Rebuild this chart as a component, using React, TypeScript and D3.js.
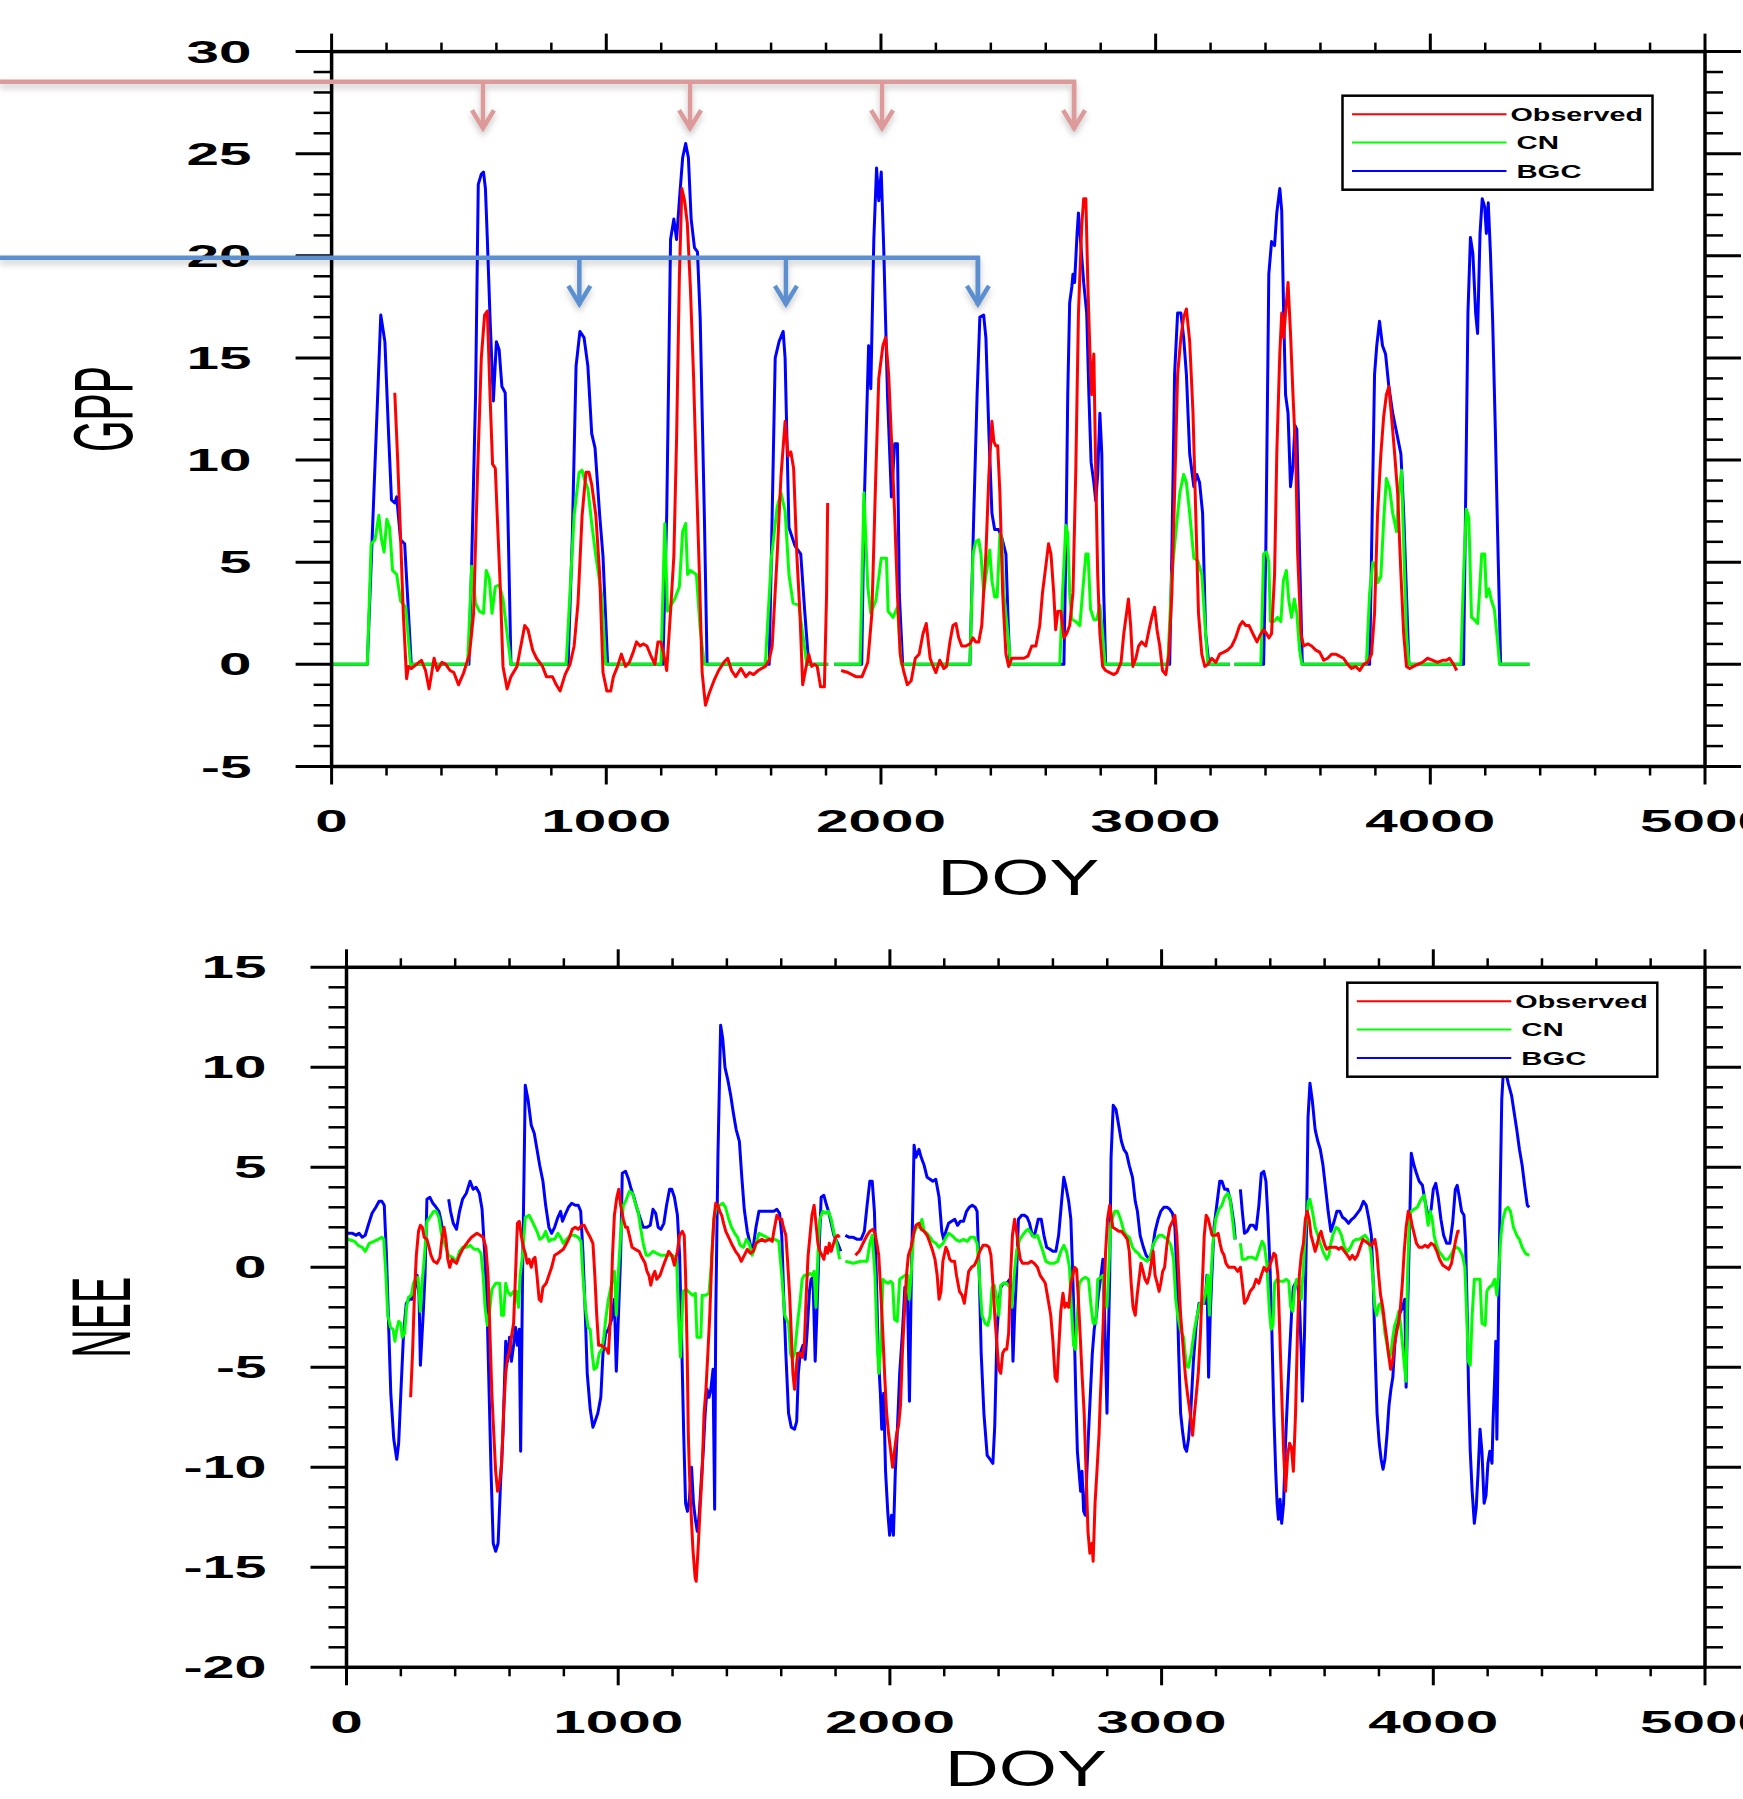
import React from "react";
import * as d3 from "d3";

type Pt = [number, number | null];

// ---- GPP (top panel) ----
const gppBGC: Pt[] = [
  [1,0],[130,0],[179,17.1],[194,15.8],[208,11.1],[218,8.05],[230,7.9],[237,8.2],[251,6.1],[266,5.9],[280,2.5],[290,0],
  [500,0],[510,5.0],[524,13.1],[534,23.5],[545,24.0],[553,24.1],[560,23.3],[567,20.8],[577,16.9],[589,12.9],[600,15.8],[610,15.4],[620,13.6],[632,13.3],[639,9.2],[653,0],
  [861,0],[876,6.1],[890,14.6],[904,16.3],[919,16.0],[933,14.6],[947,11.3],[959,10.6],[976,7.3],[988,5.3],[1005,0],
  [1206,0],[1220,7.3],[1234,20.8],[1246,21.8],[1256,20.8],[1266,22.7],[1278,24.8],[1289,25.5],[1299,24.8],[1309,21.8],[1321,20.4],[1332,20.2],[1342,16.9],[1357,7.3],[1367,0],
  [1593,0],[1601,5.3],[1615,15.0],[1629,15.8],[1644,16.3],[1651,15.0],[1665,6.7],[1687,5.8],[1708,5.4],[1723,2.5],[1737,0],[1808,0],[1815,null],[1830,0],
  [1930,0],[1938,7.3],[1955,15.6],[1963,13.5],[1974,20.8],[1984,24.3],[1992,22.7],[2001,24.1],[2010,20.4],[2024,13.1],[2038,8.2],[2050,10.8],[2060,10.8],[2067,3.4],[2079,0],
  [2324,0],[2338,7.4],[2350,13.2],[2360,17.0],[2374,17.1],[2382,16.0],[2393,11.3],[2404,7.4],[2414,6.6],[2428,6.6],[2440,6.2],[2455,5.4],[2462,2.5],[2469,0],
  [2666,0],[2673,5.4],[2680,13.2],[2687,17.7],[2695,18.5],[2699,19.1],[2705,18.7],[2714,21.1],[2719,22.1],[2728,20.5],[2738,18.7],[2749,17.2],[2757,13.2],[2765,9.9],[2775,8.9],[2782,8.0],[2789,9.3],[2797,12.3],[2804,10.3],[2811,3.5],[2818,0],
  [3051,0],[3059,5.4],[3069,14.2],[3080,17.2],[3092,17.2],[3102,16.0],[3112,14.2],[3124,10.3],[3139,8.7],[3150,9.3],[3160,8.9],[3171,7.4],[3182,1.5],[3194,0],[3270,0],[3278,null],[3287,0],
  [3393,0],[3401,5.4],[3412,19.1],[3422,20.7],[3433,20.5],[3441,22.1],[3452,23.3],[3459,22.2],[3466,17.2],[3473,13.2],[3482,12.3],[3491,8.7],[3500,9.7],[3507,11.7],[3514,11.5],[3524,5.4],[3534,0],
  [3779,0],[3786,5.4],[3797,14.2],[3805,15.6],[3815,16.8],[3826,15.6],[3837,15.2],[3849,13.6],[3863,12.3],[3878,11.3],[3893,10.3],[3903,7.4],[3913,3.5],[3922,0],
  [4121,0],[4128,7.4],[4137,17.2],[4146,20.9],[4155,20.1],[4165,17.2],[4172,16.2],[4181,21.1],[4189,22.8],[4198,22.4],[4204,21.1],[4211,22.6],[4219,20.1],[4227,16.8],[4237,11.3],[4245,6.4],[4256,0],[4361,0],
];

const gppCN: Pt[] = [
  [1,0],[130,0],[144,5.9],[158,6.1],[172,7.3],[182,6.1],[191,5.5],[201,7.1],[211,6.7],[222,4.6],[237,4.4],[251,3.1],[270,2.8],[287,0],
  [495,0],[510,4.8],[524,3.0],[538,2.6],[553,2.5],[563,4.6],[574,4.2],[584,2.5],[596,3.8],[610,3.9],[624,3.2],[639,1.5],[653,0],
  [854,0],[869,3.8],[883,7.3],[901,9.4],[912,9.5],[922,9.0],[933,8.6],[947,6.9],[962,5.3],[983,3.4],[998,0],
  [1199,0],[1213,6.9],[1223,2.6],[1249,3.2],[1266,3.8],[1278,6.5],[1289,6.9],[1296,4.4],[1306,4.6],[1328,4.4],[1342,1.7],[1357,0],
  [1579,0],[1601,5.2],[1622,7.7],[1636,8.4],[1651,7.5],[1665,4.4],[1680,3.0],[1701,2.9],[1715,1.5],[1730,0],[1808,0],[1815,null],[1830,0],
  [1924,0],[1938,8.4],[1952,3.8],[1963,2.5],[1981,3.1],[2001,5.2],[2020,5.2],[2026,2.6],[2044,2.3],[2060,2.8],[2074,0],
  [2324,0],[2335,5.4],[2345,6.0],[2356,6.1],[2364,5.4],[2374,3.5],[2389,5.0],[2396,5.6],[2404,4.1],[2414,3.3],[2423,3.3],[2433,6.4],[2440,6.2],[2447,3.5],[2462,1.5],[2472,0],
  [2651,0],[2661,3.5],[2673,6.8],[2680,6.4],[2687,3.5],[2695,2.2],[2709,2.1],[2724,1.9],[2734,3.5],[2746,5.4],[2754,5.4],[2763,2.7],[2775,2.2],[2786,2.2],[2797,2.9],[2807,1.5],[2816,0],
  [3044,0],[3059,4.4],[3073,6.4],[3088,8.4],[3102,9.3],[3112,8.9],[3124,7.4],[3139,5.2],[3153,5.1],[3168,4.4],[3182,1.5],[3190,0],[3270,0],[3278,null],[3287,0],
  [3383,0],[3393,5.4],[3404,5.5],[3412,5.0],[3418,2.1],[3430,2.1],[3444,2.3],[3456,2.1],[3465,4.1],[3476,4.6],[3485,3.1],[3495,2.3],[3505,3.2],[3514,2.5],[3524,0.7],[3532,0],
  [3767,0],[3779,3.5],[3791,5.0],[3801,4.8],[3808,4.0],[3820,4.3],[3830,7.0],[3840,9.1],[3852,8.6],[3863,7.4],[3877,6.5],[3884,8.2],[3895,9.5],[3904,5.4],[3913,1.5],[3922,0],
  [4111,0],[4121,4.4],[4131,7.6],[4140,7.2],[4150,2.3],[4160,2.2],[4172,2.0],[4179,3.5],[4187,5.4],[4198,5.4],[4204,3.3],[4213,3.7],[4223,3.1],[4233,2.7],[4245,1.1],[4252,0],[4361,0],
];

const gppObserved: Pt[] = [
  [230,13.3],[240,10.2],[251,6.3],[261,2.5],[273,-0.7],[280,-0.1],[290,-0.2],[309,0.0],[327,0.2],[342,-0.3],[355,-1.2],[373,0.3],[385,-0.3],[402,0.1],[416,0.0],[431,-0.3],[445,-0.4],[462,-1.0],[481,-0.4],[502,0.5],
  [517,2.5],[531,9.2],[545,15.0],[557,17.1],[567,17.3],[577,13.1],[586,9.8],[596,9.6],[603,7.3],[614,3.8],[624,-0.1],[639,-1.2],[653,-0.6],[675,-0.1],[689,0.9],[703,1.9],[715,1.7],[732,0.7],[746,0.3],[768,-0.1],
  [782,-0.6],[804,-0.6],[818,-1.0],[832,-1.3],[850,-0.5],[868,0.0],[883,0.9],[897,3.0],[912,7.3],[926,9.4],[937,9.4],[947,8.8],[962,7.3],[976,4.4],[988,-0.4],[1002,-1.3],[1016,-1.3],[1026,-0.6],[1041,-0.1],
  [1055,0.5],[1070,-0.1],[1084,0.1],[1098,0.6],[1110,1.1],[1123,0.9],[1134,1.0],[1148,0.9],[1163,0.4],[1177,0.0],[1188,1.1],[1199,1.1],[1209,0.5],[1220,-0.3],[1234,2.6],[1246,5.3],[1256,11.1],[1266,18.9],
  [1275,23.3],[1285,22.7],[1295,21.6],[1306,18.5],[1318,14.0],[1328,9.2],[1339,4.4],[1349,-0.4],[1361,-2.0],[1375,-1.4],[1392,-0.8],[1409,-0.3],[1428,0.1],[1442,0.3],[1456,-0.3],[1471,-0.6],[1490,-0.2],
  [1508,-0.6],[1522,-0.4],[1536,-0.5],[1553,-0.3],[1565,-0.2],[1579,-0.1],[1593,0.2],[1604,0.9],[1622,5.3],[1636,9.2],[1651,11.9],[1662,10.2],[1672,10.4],[1682,9.6],[1694,5.3],[1705,2.5],[1715,-1.0],
  [1725,-0.3],[1737,0.5],[1748,-0.1],[1758,0.0],[1768,-0.1],[1780,-1.1],[1794,-1.1],[1802,3.4],[1806,7.9],[1830,null],
  [1855,-0.3],[1880,-0.4],[1909,-0.6],[1931,-0.6],[1952,0.1],[1967,2.5],[1981,9.2],[1992,14.0],[2007,15.6],[2017,16.0],[2028,14.2],[2038,11.1],[2050,7.3],[2060,3.4],[2070,0.5],[2082,-0.3],[2096,-1.0],
  [2110,-0.8],[2125,0.3],[2139,0.5],[2153,1.5],[2165,2.0],[2179,0.3],[2190,-0.1],[2200,-0.4],[2214,0.2],[2229,-0.2],[2239,-0.1],[2251,1.1],[2262,1.9],[2273,2.0],[2283,1.3],[2294,0.9],[2309,0.9],[2324,1.0],
  [2335,1.3],[2345,1.1],[2356,1.1],[2367,1.9],[2382,5.4],[2393,9.3],[2404,11.9],[2411,10.9],[2418,10.7],[2425,10.7],[2433,8.4],[2443,3.5],[2455,0.5],[2465,-0.1],[2476,0.3],[2498,0.3],[2520,0.3],[2535,0.4],
  [2549,0.9],[2564,0.9],[2578,1.9],[2588,3.5],[2600,4.8],[2610,5.9],[2619,5.4],[2629,3.5],[2636,1.7],[2644,2.6],[2655,2.6],[2666,1.3],[2676,1.5],[2687,1.9],[2699,3.5],[2709,9.3],[2719,17.2],[2731,21.5],
  [2738,22.8],[2746,22.8],[2753,18.7],[2760,15.6],[2767,13.2],[2775,15.2],[2782,9.3],[2789,4.4],[2797,1.5],[2807,-0.1],[2818,-0.3],[2833,-0.4],[2848,-0.5],[2859,-0.4],[2874,0.1],[2884,1.5],[2894,2.5],
  [2901,3.2],[2909,1.9],[2917,-0.1],[2928,0.3],[2938,0.9],[2949,1.1],[2964,0.9],[2976,1.7],[2986,2.3],[2996,2.8],[3005,1.7],[3015,0.9],[3025,-0.3],[3037,-0.5],[3048,0.5],[3059,3.5],[3069,8.4],[3080,14.2],
  [3092,16.0],[3102,17.0],[3112,17.4],[3124,15.8],[3136,12.3],[3146,7.4],[3156,2.5],[3168,0.5],[3179,-0.1],[3190,0.0],[3204,0.3],[3219,0.1],[3233,0.5],[3248,0.6],[3262,0.7],[3277,0.9],[3291,1.3],[3306,1.9],
  [3316,2.1],[3328,1.9],[3340,1.9],[3354,1.5],[3369,1.1],[3383,1.5],[3393,1.7],[3404,1.5],[3412,1.3],[3422,1.5],[3433,4.4],[3441,10.3],[3452,15.2],[3459,17.2],[3466,16.0],[3473,17.2],[3482,18.7],[3491,16.2],
  [3500,13.2],[3510,10.3],[3517,5.4],[3529,1.5],[3539,0.9],[3554,1.0],[3568,0.9],[3583,0.7],[3597,0.6],[3612,0.2],[3626,0.3],[3641,0.5],[3655,0.5],[3670,0.4],[3684,0.3],[3699,0.0],[3713,-0.2],[3728,-0.1],
  [3743,-0.3],[3757,0.0],[3772,0.1],[3786,0.5],[3797,2.5],[3808,7.4],[3820,10.3],[3830,12.1],[3840,13.2],[3849,13.6],[3859,12.1],[3869,10.5],[3881,8.4],[3893,4.4],[3903,1.5],[3913,-0.1],[3925,-0.2],
  [3939,-0.1],[3954,0.0],[3971,0.1],[3990,0.3],[4009,0.2],[4026,0.1],[4044,0.2],[4059,0.2],[4070,0.3],[4085,0.0],[4096,-0.3],
];

// ---- NEE (bottom panel) ----
const neeBGC: Pt[] = [
  [5,1.7],[22,1.7],[36,1.6],[46,1.7],[58,1.5],[69,1.6],[80,2.1],[94,2.7],[108,3.0],[120,3.3],[130,3.3],[139,3.1],[147,0.6],[156,-3.3],[163,-6.3],[174,-8.6],[185,-9.6],[192,-8.8],[200,-6.3],[210,-3.3],
  [220,-1.8],[231,-1.6],[241,-1.6],[250,-1.2],[260,-0.4],[267,-1.4],[272,-4.9],[282,-2.4],[289,-0.4],[296,3.4],[307,3.5],[318,3.2],[330,3.0],[340,2.8],[347,2.4],[354,1.8],[365,null],
  [376,3.4],[383,2.8],[393,2.2],[405,1.9],[416,2.8],[427,3.4],[441,3.7],[455,4.3],[466,3.9],[477,4.0],[489,3.7],[499,2.9],[509,0.6],[518,-2.4],[525,-6.3],[532,-10.2],[540,-13.8],[549,-14.2],[558,-13.8],
  [567,-10.8],[576,-8.3],[586,-3.7],[593,-4.7],[600,-3.5],[607,-4.7],[615,-3.9],[622,-3.0],[629,-3.9],[636,-3.1],[641,-9.2],[648,-0.4],[658,9.1],[668,8.4],[680,7.1],[691,6.7],[701,5.9],[711,5.1],[723,4.3],
  [733,3.1],[745,2.0],[755,1.7],[766,2.0],[778,2.5],[788,2.8],[795,2.3],[807,2.7],[817,3.0],[829,3.2],[842,3.1],[853,3.1],[862,2.8],[870,0.8],[879,-2.4],[886,-5.3],[897,-7.1],[907,-8.0],[915,-7.7],
  [925,-7.3],[936,-6.5],[944,-4.3],[954,-3.3],[964,-3.1],[976,-2.6],[986,-1.6],[993,-5.2],[1001,-2.4],[1009,0.6],[1015,4.7],[1027,4.8],[1038,4.4],[1048,3.9],[1058,3.5],[1070,2.9],[1082,2.4],[1092,2.0],
  [1106,2.0],[1118,2.1],[1128,2.9],[1138,2.7],[1147,2.0],[1157,1.9],[1168,2.2],[1178,3.1],[1189,3.9],[1197,3.9],[1207,3.5],[1218,2.6],[1226,0.6],[1233,-3.3],[1241,-8.3],[1248,-11.8],[1255,-12.2],
  [1262,-11.6],[1270,-10.0],[1277,-11.8],[1284,-12.6],[1291,-13.2],[1298,-12.4],[1306,-10.6],[1313,-9.2],[1320,-7.3],[1327,-6.1],[1334,-6.5],[1341,-6.1],[1349,-5.1],[1355,-12.1],[1359,-2.4],[1367,5.5],
  [1377,12.1],[1385,11.4],[1393,10.0],[1403,9.4],[1414,8.6],[1424,7.7],[1434,6.9],[1446,6.3],[1455,4.5],[1464,2.9],[1475,1.8],[1487,1.1],[1497,1.0],[1507,2.0],[1518,2.8],[1529,2.8],[1540,2.8],[1551,2.8],
  [1562,2.8],[1573,2.8],[1584,2.9],[1594,2.7],[1602,1.6],[1609,-1.4],[1617,-4.3],[1627,-7.3],[1637,-8.0],[1649,-8.1],[1657,-7.7],[1663,-5.3],[1670,-4.3],[1680,-3.9],[1688,-4.6],[1695,-3.3],[1704,-1.2],
  [1710,-0.6],[1717,-0.5],[1725,-4.7],[1731,-2.4],[1737,0.0],[1747,3.5],[1757,3.6],[1767,3.1],[1774,2.8],[1784,2.2],[1794,1.6],[1808,1.2],[1819,0.8],[1828,null],
  [1836,1.6],[1851,1.5],[1865,1.5],[1880,1.4],[1894,1.4],[1906,1.8],[1916,3.1],[1926,4.3],[1935,4.3],[1943,2.8],[1950,-0.4],[1957,-4.3],[1965,-6.3],[1970,-8.1],[1977,-6.3],[1984,-10.2],[1992,-12.2],
  [1999,-13.4],[2006,-12.4],[2013,-13.4],[2020,-10.2],[2027,-8.3],[2036,-5.3],[2046,-3.3],[2055,-1.0],[2065,-1.6],[2072,-6.7],[2079,-0.4],[2089,6.1],[2096,5.5],[2107,5.9],[2115,5.5],[2126,5.1],[2137,4.5],
  [2148,4.4],[2158,4.3],[2169,4.4],[2181,3.5],[2191,1.8],[2198,1.4],[2206,1.8],[2216,2.2],[2227,2.3],[2239,2.4],[2249,2.1],[2259,2.3],[2271,2.3],[2282,2.8],[2292,3.0],[2303,3.1],[2314,3.0],[2321,2.8],
  [2329,-0.4],[2336,-4.3],[2346,-7.3],[2358,-9.4],[2369,-9.6],[2379,-9.8],[2386,-7.9],[2394,-3.3],[2401,-1.8],[2408,-1.0],[2418,-0.8],[2430,-0.8],[2441,-0.6],[2449,-2.0],[2453,-4.7],[2459,-2.4],
  [2466,-0.4],[2473,2.4],[2485,2.6],[2495,2.6],[2505,2.5],[2514,2.2],[2524,1.6],[2534,1.7],[2546,2.4],[2557,2.4],[2567,1.6],[2577,1.0],[2589,0.9],[2600,0.8],[2611,0.8],[2621,1.6],[2632,3.3],[2640,4.5],
  [2647,4.1],[2658,3.3],[2666,2.4],[2673,-0.4],[2679,-3.3],[2684,-6.3],[2690,-9.2],[2696,-10.2],[2702,-11.2],[2707,-10.2],[2713,-12.2],[2719,-12.4],[2725,-10.2],[2731,-8.3],[2738,-6.3],[2745,-4.3],
  [2752,-3.1],[2760,-2.4],[2767,-1.4],[2777,-0.4],[2784,0.4],[2791,-2.8],[2799,-7.3],[2803,-4.3],[2809,-0.4],[2814,5.5],[2822,8.1],[2832,7.9],[2842,7.1],[2852,6.3],[2861,5.9],[2871,5.7],[2881,5.1],
  [2893,4.5],[2903,3.3],[2911,2.8],[2921,1.6],[2933,1.0],[2943,0.6],[2955,0.4],[2965,0.8],[2976,1.8],[2987,2.4],[2997,2.8],[3008,3.0],[3020,3.0],[3030,2.9],[3040,2.7],[3049,2.0],[3056,-0.4],[3063,-4.3],
  [3070,-7.3],[3078,-8.3],[3085,-9.0],[3092,-9.2],[3099,-8.6],[3107,-7.3],[3117,-4.7],[3127,-2.9],[3138,-1.8],[3150,-1.8],[3160,-1.8],[3167,-0.4],[3173,-5.5],[3179,-2.4],[3185,-0.4],[3193,2.0],[3203,3.1],
  [3214,4.3],[3222,4.3],[3232,3.9],[3243,3.9],[3254,3.3],[3266,2.2],[3271,1.4],[3280,null],
  [3290,3.9],[3297,2.8],[3305,1.7],[3315,1.8],[3326,2.1],[3338,2.1],[3348,1.9],[3358,3.1],[3367,4.7],[3376,4.8],[3384,4.3],[3391,2.6],[3399,0.0],[3406,-3.3],[3413,-7.3],[3420,-10.2],[3425,-11.8],
  [3430,-12.6],[3436,-11.6],[3442,-12.8],[3449,-11.8],[3456,-8.8],[3464,-6.3],[3471,-4.3],[3478,-2.4],[3485,-1.0],[3493,-0.8],[3500,-0.8],[3507,-1.6],[3514,-4.3],[3518,-6.7],[3526,-3.3],[3533,1.6],
  [3539,7.5],[3546,9.2],[3555,8.3],[3565,6.9],[3575,6.3],[3584,5.9],[3594,5.1],[3604,3.9],[3613,2.8],[3623,1.8],[3633,2.2],[3645,2.8],[3656,2.8],[3666,2.5],[3676,2.4],[3688,2.2],[3700,2.4],[3709,2.5],
  [3720,2.7],[3731,2.9],[3743,3.3],[3753,3.1],[3763,2.4],[3772,1.6],[3779,-0.8],[3786,-4.3],[3793,-7.3],[3801,-8.8],[3808,-9.6],[3815,-10.1],[3822,-9.6],[3830,-8.3],[3837,-6.9],[3844,-6.1],[3851,-5.5],
  [3858,-3.9],[3866,-2.9],[3873,-2.4],[3880,-2.2],[3887,-2.0],[3895,-1.6],[3900,-6.0],[3905,-2.4],[3912,1.6],[3919,5.7],[3929,5.1],[3938,4.7],[3948,4.3],[3960,4.1],[3967,3.5],[3977,2.8],[3984,2.6],
  [3992,2.9],[4000,3.9],[4009,4.2],[4018,3.5],[4028,2.4],[4038,1.6],[4049,1.2],[4061,1.2],[4071,2.2],[4081,3.9],[4088,4.1],[4096,3.5],[4104,2.8],[4113,2.6],[4119,1.2],[4125,-2.4],[4130,-6.3],[4136,-9.2],
  [4143,-11.2],[4151,-12.8],[4158,-12.0],[4165,-10.2],[4172,-8.1],[4179,-9.2],[4187,-11.8],[4194,-11.4],[4201,-9.8],[4208,-9.2],[4216,-9.8],[4220,-7.7],[4226,-5.5],[4230,-3.7],[4234,-8.6],[4240,-2.4],
  [4246,3.5],[4252,8.4],[4259,10.1],[4266,9.8],[4276,9.2],[4288,8.6],[4298,7.7],[4307,6.9],[4317,5.9],[4327,5.1],[4336,4.1],[4346,3.1],[4353,3.0],
];

const neeCN: Pt[] = [
  [5,1.4],[29,1.3],[43,1.1],[58,1.0],[69,0.8],[84,1.2],[101,1.3],[116,1.4],[130,1.5],[137,1.4],[145,-0.4],[152,-2.4],[162,-3.0],[171,-3.1],[178,-3.7],[185,-3.1],[192,-2.7],[200,-2.8],[205,-3.5],
  [214,-3.3],[221,-2.0],[228,-1.5],[239,-1.4],[246,-0.8],[253,-0.6],[263,-0.5],[272,-2.2],[278,-0.8],[286,0.4],[296,2.3],[311,2.6],[321,2.8],[330,2.8],[340,2.5],[350,1.6],[361,1.2],[376,0.6],[390,0.5],
  [405,0.3],[416,0.8],[427,1.0],[441,1.0],[455,1.1],[470,0.9],[484,0.9],[495,0.7],[503,-0.4],[510,-2.0],[518,-2.9],[525,-2.4],[535,-1.1],[549,-0.8],[564,-0.8],[571,-2.4],[578,-2.4],[586,-0.8],[593,-1.2],
  [604,-1.4],[615,-1.2],[625,-1.2],[633,-2.0],[639,-0.4],[648,0.6],[658,2.5],[672,2.6],[687,2.2],[701,1.8],[711,1.4],[723,1.5],[733,1.8],[745,1.3],[755,1.4],[766,1.4],[778,1.7],[788,1.5],[798,1.2],
  [810,1.4],[824,1.6],[839,1.6],[853,1.5],[863,1.3],[870,-0.4],[879,-2.0],[889,-3.0],[897,-3.1],[904,-4.3],[911,-5.1],[921,-5.0],[930,-4.3],[940,-4.1],[947,-3.5],[954,-2.6],[964,-1.6],[976,-0.8],
  [986,-0.2],[993,-2.4],[1001,-0.2],[1009,1.6],[1019,3.1],[1030,3.4],[1041,3.8],[1053,3.7],[1063,3.2],[1073,2.8],[1082,2.0],[1092,1.2],[1103,0.6],[1113,0.6],[1128,0.8],[1142,0.7],[1157,0.6],[1171,0.6],
  [1186,0.6],[1200,0.6],[1215,0.4],[1222,-2.4],[1229,-4.5],[1239,-1.2],[1251,-1.1],[1265,-1.3],[1275,-1.4],[1284,-1.3],[1290,-3.5],[1304,-3.5],[1309,-1.4],[1323,-1.4],[1334,-1.3],[1342,0.0],[1352,2.4],
  [1362,3.0],[1374,3.1],[1385,3.2],[1395,3.0],[1407,2.4],[1417,2.0],[1429,1.7],[1439,1.5],[1449,1.1],[1461,1.0],[1472,1.4],[1482,1.2],[1493,0.6],[1504,1.0],[1518,1.7],[1533,1.6],[1547,1.5],[1562,1.4],
  [1576,1.4],[1591,1.3],[1602,-0.4],[1613,-2.4],[1620,-2.6],[1627,-2.8],[1634,-4.3],[1641,-4.6],[1649,-4.3],[1660,-2.8],[1670,-1.6],[1677,-0.6],[1685,-0.4],[1692,-0.4],[1699,-0.4],[1706,-0.3],[1715,-0.4],
  [1721,-0.2],[1728,-2.0],[1735,0.6],[1742,2.4],[1753,2.8],[1764,2.7],[1774,2.8],[1784,2.4],[1793,1.8],[1804,1.2],[1815,0.4],[1825,null],
  [1836,0.3],[1865,0.2],[1894,0.3],[1916,0.3],[1926,1.2],[1935,1.6],[1945,-0.4],[1952,-3.3],[1959,-5.3],[1967,-3.9],[1974,-0.6],[1981,-0.7],[1993,-0.8],[2003,-0.7],[2010,-0.8],[2017,-2.6],[2027,-2.7],
  [2036,-0.6],[2046,-0.5],[2055,-0.4],[2065,-0.4],[2071,-1.6],[2078,-0.4],[2087,1.6],[2097,2.0],[2107,2.0],[2118,2.4],[2126,1.8],[2137,1.7],[2148,1.5],[2158,1.3],[2169,1.2],[2181,1.0],[2196,1.2],[2206,1.5],
  [2216,1.7],[2227,1.6],[2242,1.4],[2256,1.3],[2271,1.4],[2285,1.3],[2297,1.5],[2311,1.5],[2321,1.2],[2329,-0.4],[2339,-2.4],[2350,-2.8],[2360,-2.9],[2369,-2.4],[2376,-1.0],[2384,-0.9],[2394,-1.6],
  [2401,-2.4],[2408,-0.9],[2418,-0.8],[2430,-0.8],[2441,-1.0],[2449,-2.0],[2456,-0.6],[2466,0.8],[2478,1.4],[2488,1.6],[2499,1.8],[2509,1.9],[2520,1.7],[2531,1.5],[2543,1.6],[2553,1.2],[2563,0.8],
  [2574,0.3],[2589,0.2],[2603,0.2],[2618,0.3],[2629,0.8],[2640,1.1],[2650,0.8],[2661,0.0],[2668,-2.0],[2676,-3.9],[2683,-4.1],[2690,-2.4],[2697,-0.8],[2707,-0.6],[2719,-0.5],[2731,-0.6],[2741,-2.0],
  [2748,-2.8],[2758,-2.8],[2765,-0.6],[2777,-0.5],[2784,-0.4],[2791,-1.6],[2799,-2.0],[2806,0.0],[2813,2.2],[2828,2.8],[2838,2.8],[2849,2.4],[2861,1.8],[2871,1.6],[2881,1.5],[2893,1.0],[2904,0.8],
  [2914,0.7],[2924,0.5],[2936,0.4],[2947,0.3],[2958,0.5],[2968,1.1],[2979,1.4],[2991,1.6],[3001,1.6],[3011,1.5],[3023,1.4],[3034,1.1],[3044,0.4],[3052,-1.6],[3059,-2.4],[3069,-3.1],[3081,-3.5],
  [3091,-4.9],[3099,-5.0],[3109,-4.3],[3121,-3.1],[3131,-2.4],[3141,-1.8],[3153,-1.8],[3163,-1.2],[3170,-0.4],[3176,-2.4],[3182,-0.4],[3189,1.2],[3199,2.4],[3211,2.9],[3222,3.1],[3232,3.5],[3243,3.7],
  [3251,3.5],[3261,2.4],[3269,1.4],[3280,null],
  [3290,1.2],[3297,0.4],[3309,0.4],[3319,0.5],[3334,0.5],[3348,0.4],[3358,0.8],[3370,1.3],[3378,1.1],[3387,0.2],[3396,-2.0],[3403,-3.1],[3410,-2.9],[3416,-0.8],[3425,-0.6],[3436,-0.7],[3449,-0.7],
  [3459,-0.6],[3468,-0.7],[3475,-2.0],[3483,-2.2],[3490,-1.0],[3497,-0.6],[3507,-1.0],[3514,-1.6],[3522,0.0],[3529,1.8],[3540,3.3],[3546,3.4],[3555,2.8],[3565,2.0],[3575,1.6],[3584,1.2],[3594,0.8],
  [3601,0.6],[3608,0.4],[3616,0.6],[3623,1.2],[3630,1.6],[3642,2.0],[3652,1.9],[3662,1.6],[3673,1.0],[3685,0.8],[3695,1.0],[3705,1.3],[3717,1.4],[3728,1.4],[3738,1.5],[3749,1.6],[3760,1.4],[3770,0.8],
  [3777,-0.4],[3785,-2.0],[3792,-2.4],[3799,-1.9],[3806,-1.8],[3815,-2.4],[3822,-3.3],[3830,-3.9],[3837,-4.5],[3844,-4.3],[3851,-3.5],[3858,-2.9],[3866,-2.6],[3873,-2.2],[3880,-2.9],[3887,-3.9],
  [3895,-5.1],[3900,-5.7],[3905,-0.4],[3912,2.4],[3919,2.8],[3929,2.9],[3941,3.0],[3951,3.3],[3960,3.5],[3967,3.6],[3974,2.8],[3981,2.1],[3989,2.8],[3996,2.4],[4003,1.6],[4010,1.2],[4020,0.8],
  [4032,0.6],[4042,0.4],[4054,0.4],[4064,0.6],[4075,0.9],[4086,1.0],[4096,0.9],[4107,0.6],[4116,0.0],[4123,-2.4],[4129,-4.7],[4136,-4.9],[4143,-2.4],[4151,-0.6],[4162,-0.6],[4172,-0.6],[4179,-2.8],
  [4191,-2.9],[4197,-1.2],[4206,-1.0],[4216,-0.9],[4226,-0.6],[4234,-1.4],[4240,-0.4],[4249,1.6],[4256,2.4],[4266,2.9],[4275,3.0],[4284,2.8],[4295,2.0],[4307,1.6],[4317,1.4],[4327,1.0],[4339,0.7],[4353,0.6],
];

const neeObserved: Pt[] = [
  [236,-6.5],[243,-4.3],[250,-1.4],[257,0.6],[265,1.8],[272,2.1],[279,2.0],[286,1.5],[296,1.4],[304,1.0],[311,0.6],[321,0.3],[333,0.2],[344,0.5],[351,1.4],[359,2.0],[366,1.4],[373,0.4],[380,0.0],
  [388,0.4],[395,0.3],[405,0.2],[416,0.6],[427,0.9],[437,1.1],[448,1.3],[460,1.5],[470,1.6],[480,1.7],[492,1.6],[503,1.5],[513,1.0],[521,-0.4],[528,-3.3],[535,-6.3],[542,-8.3],[549,-10.2],[556,-11.2],
  [564,-10.7],[571,-9.8],[578,-7.3],[586,-5.3],[593,-4.5],[600,-4.2],[607,-3.5],[615,-2.8],[622,-0.4],[629,2.2],[636,2.3],[643,1.6],[651,1.0],[658,0.7],[665,0.2],[672,0.4],[680,0.0],[687,0.4],[694,0.5],
  [701,-0.4],[709,-1.6],[716,-1.7],[723,-1.0],[735,-0.8],[745,-0.4],[755,0.0],[766,0.6],[778,0.7],[788,0.8],[798,0.9],[810,1.2],[821,1.5],[831,1.9],[842,2.0],[853,1.9],[866,2.1],[875,2.1],[885,1.8],
  [897,1.5],[907,1.2],[914,-0.4],[921,-2.4],[928,-3.9],[937,-3.9],[947,-4.0],[957,-4.1],[964,-4.3],[972,-2.4],[979,0.6],[986,2.6],[995,3.5],[1002,3.9],[1009,3.1],[1019,2.4],[1027,2.0],[1034,2.0],
  [1041,1.6],[1051,1.0],[1063,0.9],[1077,0.8],[1087,0.5],[1099,0.2],[1106,-0.2],[1113,-0.4],[1120,-0.9],[1128,-0.4],[1135,-0.2],[1142,-0.6],[1154,-0.4],[1164,0.0],[1175,0.4],[1186,0.8],[1197,0.6],
  [1207,0.1],[1218,0.8],[1226,1.6],[1236,1.8],[1243,1.6],[1248,-0.4],[1254,-4.3],[1258,-8.3],[1262,-10.2],[1268,-12.2],[1275,-14.1],[1283,-15.5],[1287,-15.7],[1294,-14.1],[1301,-12.2],[1309,-10.2],
  [1316,-7.3],[1323,-6.1],[1330,-4.3],[1337,-2.4],[1345,0.6],[1352,2.4],[1359,3.2],[1367,3.1],[1374,2.8],[1381,2.6],[1388,2.2],[1396,1.8],[1403,1.6],[1410,1.4],[1420,1.1],[1432,0.8],[1443,0.6],
  [1453,0.3],[1464,0.6],[1475,0.9],[1487,0.7],[1497,0.8],[1507,1.2],[1518,1.3],[1529,1.4],[1540,1.3],[1556,1.4],[1567,1.3],[1573,1.8],[1584,2.6],[1594,2.4],[1602,2.4],[1608,2.0],[1617,1.6],[1623,0.4],
  [1631,-1.4],[1637,-3.3],[1643,-5.3],[1649,-6.1],[1654,-5.3],[1660,-4.3],[1670,-4.3],[1677,-4.5],[1685,-3.9],[1692,-1.4],[1699,0.6],[1706,1.6],[1713,2.6],[1721,3.1],[1728,2.2],[1735,1.2],[1742,0.8],
  [1750,0.6],[1757,0.4],[1764,1.0],[1771,0.7],[1777,1.2],[1784,0.8],[1793,1.2],[1800,1.5],[1808,1.6],[1815,1.5],[1840,null],
  [1873,0.6],[1887,0.8],[1901,1.2],[1916,1.6],[1926,1.8],[1938,1.9],[1945,1.7],[1952,1.2],[1959,0.6],[1967,-1.4],[1974,-3.3],[1981,-5.5],[1988,-7.3],[1995,-8.3],[2003,-9.2],[2010,-10.0],[2017,-9.2],
  [2025,-8.3],[2032,-7.9],[2039,-6.9],[2046,-4.3],[2053,-2.4],[2061,-0.4],[2068,0.6],[2078,1.0],[2089,1.8],[2096,2.1],[2107,2.2],[2115,1.9],[2126,1.8],[2137,1.6],[2148,1.2],[2158,0.8],[2166,0.4],
  [2174,-0.4],[2181,-1.6],[2188,-1.2],[2195,0.3],[2206,1.0],[2213,0.8],[2220,0.4],[2227,0.3],[2238,0.3],[2245,-0.4],[2256,-1.2],[2266,-1.4],[2274,-1.8],[2282,-1.0],[2290,-0.2],[2300,0.0],[2311,0.1],
  [2321,0.4],[2331,0.8],[2343,1.1],[2355,1.1],[2365,1.0],[2372,0.6],[2379,-0.8],[2386,-2.4],[2394,-3.9],[2401,-5.1],[2408,-5.3],[2415,-4.3],[2423,-4.1],[2430,-4.1],[2437,-3.3],[2444,-0.4],[2451,1.6],
  [2459,2.4],[2466,1.8],[2473,1.0],[2480,0.4],[2488,0.2],[2499,0.2],[2509,0.2],[2520,0.3],[2531,0.2],[2543,0.0],[2553,-0.4],[2563,-0.6],[2572,-0.8],[2582,-1.6],[2592,-2.4],[2600,-3.7],[2608,-5.5],
  [2615,-5.7],[2622,-3.9],[2629,-2.2],[2637,-1.3],[2644,-2.0],[2651,-1.8],[2658,-2.0],[2666,-0.8],[2673,-0.4],[2680,0.0],[2687,-0.1],[2693,-1.4],[2700,-3.3],[2707,-5.3],[2715,-7.3],[2722,-10.2],
  [2729,-13.2],[2736,-14.3],[2744,-13.8],[2748,-14.7],[2755,-11.8],[2762,-10.2],[2770,-8.3],[2774,-6.7],[2780,-4.7],[2787,-2.0],[2794,0.8],[2801,2.4],[2809,3.1],[2813,2.8],[2820,2.0],[2832,1.9],
  [2842,1.8],[2852,1.8],[2864,1.6],[2874,1.4],[2881,0.8],[2888,-0.8],[2895,-2.0],[2903,-2.4],[2910,-1.4],[2917,-0.6],[2924,0.2],[2932,-0.2],[2939,-0.6],[2947,-0.8],[2955,-0.4],[2962,0.2],[2969,0.8],
  [2976,-0.4],[2984,-0.8],[2991,-1.2],[2997,-0.8],[3004,-0.2],[3011,0.0],[3020,1.2],[3030,2.0],[3040,2.3],[3049,2.6],[3056,1.6],[3063,-0.4],[3070,-2.4],[3081,-4.3],[3088,-5.5],[3095,-6.3],[3105,-7.3],
  [3114,-8.4],[3121,-7.3],[3128,-6.3],[3135,-5.3],[3143,-3.3],[3150,-0.8],[3157,1.6],[3164,2.6],[3172,2.4],[3179,2.0],[3186,1.6],[3193,1.6],[3201,1.6],[3208,1.7],[3215,1.2],[3222,0.8],[3230,0.6],
  [3237,0.2],[3247,0.0],[3257,0.0],[3269,0.0],[3280,-0.2],[3290,0.0],[3297,-0.8],[3305,-1.8],[3315,-1.6],[3326,-1.2],[3338,-1.0],[3348,-0.6],[3358,-0.8],[3367,-0.4],[3377,0.0],[3387,-0.2],[3396,0.0],
  [3406,0.4],[3413,0.7],[3420,0.6],[3428,-0.4],[3435,-3.3],[3442,-6.3],[3449,-9.2],[3456,-11.2],[3464,-9.4],[3471,-8.8],[3478,-9.0],[3485,-10.2],[3493,-7.3],[3500,-3.3],[3507,-0.4],[3514,0.6],
  [3522,1.2],[3529,2.4],[3536,2.8],[3543,2.4],[3550,1.6],[3558,1.2],[3565,0.8],[3572,1.1],[3580,1.6],[3587,1.8],[3594,1.4],[3601,1.1],[3608,0.9],[3618,1.0],[3630,1.0],[3642,1.0],[3652,0.9],[3662,1.0],
  [3673,0.8],[3684,0.6],[3693,0.4],[3702,0.6],[3712,0.4],[3721,0.6],[3731,1.0],[3741,1.4],[3750,1.3],[3760,1.2],[3770,1.1],[3779,1.2],[3785,1.4],[3792,0.8],[3799,-0.4],[3806,-1.4],[3814,-2.0],
  [3821,-2.8],[3828,-3.5],[3835,-4.3],[3843,-5.1],[3850,-4.7],[3857,-3.9],[3864,-3.3],[3872,-2.8],[3879,-2.0],[3886,-0.8],[3893,0.8],[3900,2.0],[3908,2.8],[3915,2.6],[3922,2.1],[3931,1.6],[3938,1.2],
  [3948,1.0],[3960,1.0],[3970,1.1],[3980,1.0],[3992,1.2],[4003,1.1],[4013,0.8],[4023,0.4],[4035,0.1],[4046,0.0],[4057,-0.1],[4067,0.2],[4075,0.8],[4083,1.4],[4090,1.8],[4097,1.8],
];

const seriesNames = ["Observed", "CN", "BGC"];
const seriesColors = ["#ff0000", "#00ff00", "#0000ff"];
const xTickValues = [0, 1000, 2000, 3000, 4000, 5000];
const gppTickValues = [-5, 0, 5, 10, 15, 20, 25, 30];
const neeTickValues = [-20, -15, -10, -5, 0, 5, 10, 15];

// annotation arrows over the GPP panel (DOY of arrow, GPP level of line / tip)
const pinkArrowDoys = [551, 1305, 2004, 2703];
const blueArrowDoys = [902, 1654, 2353];
const pinkLevel = [28.53, 26.2];
const blueLevel = [19.91, 17.6];

const FONT = "'Liberation Sans', Arial, Helvetica, sans-serif";
const labelWidth = (s: string) => s.split("").reduce((w, c) => w + (c === "-" ? 18 : 32.5), 0);

type Box = { left: number; right: number; top: number; bottom: number };

function Panel({ box, yDomain, yTicks, series, legendX, legendY, title, titleX, xTitleBaseline }: {
  box: Box; yDomain: [number, number]; yTicks: number[]; series: Pt[][];
  legendX: number; legendY: number; title: string; titleX: number; xTitleBaseline: number;
}) {
  const x = d3.scaleLinear().domain([0, 5000]).range([box.left, box.right]);
  const y = d3.scaleLinear().domain(yDomain).range([box.bottom, box.top]);
  const line = d3.line<Pt>().defined(d => d[1] !== null).x(d => x(d[0])).y(d => y(d[1] as number));
  const xMinor = d3.range(0, 5001, 200).filter(v => v % 1000 !== 0);
  const yMinor = d3.range(yDomain[0], yDomain[1] + 1, 1).filter(v => v % 5 !== 0);
  const midY = (box.top + box.bottom) / 2;
  const rows = [18.5, 46.7, 75.3];
  // series drawn BGC first, Observed last (on top)
  const order = [2, 1, 0];
  return (
    <g>
      {order.map(i => (
        <path key={i} d={line(series[i]) || ""} fill="none" stroke={seriesColors[i]} strokeWidth={3} strokeLinejoin="round" />
      ))}
      <rect x={box.left} y={box.top} width={box.right - box.left} height={box.bottom - box.top} fill="none" stroke="#000" strokeWidth={3.5} />
      {xTickValues.map(v => (
        <g key={"xm" + v} stroke="#000" strokeWidth={3}>
          <line x1={x(v)} x2={x(v)} y1={box.bottom} y2={box.bottom + 18} />
          <line x1={x(v)} x2={x(v)} y1={box.top} y2={box.top - 18} />
        </g>
      ))}
      {xMinor.map(v => (
        <g key={"xn" + v} stroke="#000" strokeWidth={2.5}>
          <line x1={x(v)} x2={x(v)} y1={box.bottom} y2={box.bottom + 9} />
          <line x1={x(v)} x2={x(v)} y1={box.top} y2={box.top - 9} />
        </g>
      ))}
      {yTicks.map(v => (
        <g key={"ym" + v} stroke="#000" strokeWidth={3}>
          <line x1={box.left - 36} x2={box.left} y1={y(v)} y2={y(v)} />
          <line x1={box.right} x2={box.right + 36} y1={y(v)} y2={y(v)} />
        </g>
      ))}
      {yMinor.map(v => (
        <g key={"yn" + v} stroke="#000" strokeWidth={2.5}>
          <line x1={box.left - 18} x2={box.left} y1={y(v)} y2={y(v)} />
          <line x1={box.right} x2={box.right + 18} y1={y(v)} y2={y(v)} />
        </g>
      ))}
      {yTicks.map(v => (
        <text key={"yl" + v} x={box.left - 80} y={y(v) + 11} textAnchor="end" fontSize={31} fontWeight="bold"
          fontFamily={FONT} textLength={labelWidth(String(v))} lengthAdjust="spacingAndGlyphs">{v}</text>
      ))}
      {xTickValues.map(v => (
        <text key={"xl" + v} x={x(v)} y={box.bottom + 65.5} textAnchor="middle" fontSize={32} fontWeight="bold"
          fontFamily={FONT} textLength={labelWidth(String(v))} lengthAdjust="spacingAndGlyphs">{v}</text>
      ))}
      <text x={(box.left + box.right) / 2} y={xTitleBaseline} textAnchor="middle" fontSize={50} fontFamily={FONT}
        textLength={162} lengthAdjust="spacingAndGlyphs">DOY</text>
      <text transform={`translate(${titleX},${midY}) rotate(-90)`} textAnchor="middle" fontSize={84} fontFamily={FONT}
        textLength={title === "GPP" ? 86 : 81} lengthAdjust="spacingAndGlyphs">{title}</text>
      <g>
        <rect x={legendX} y={legendY} width={310} height={94} fill="#fff" stroke="#000" strokeWidth={2.5} />
        {seriesNames.map((name, i) => (
          <g key={name}>
            <line x1={legendX + 9.5} x2={legendX + 164} y1={legendY + rows[i]} y2={legendY + rows[i]} stroke={seriesColors[i]} strokeWidth={2} />
            <text x={legendX + (i === 0 ? 168 : 174)} y={legendY + rows[i] + 6.5} fontSize={18} fontWeight="bold" fontFamily={FONT}
              textLength={[132.5, 42.5, 65][i]} lengthAdjust="spacingAndGlyphs">{name}</text>
          </g>
        ))}
      </g>
    </g>
  );
}

function Arrows({ box, doys, level, color }: { box: Box; doys: number[]; level: number[]; color: string }) {
  const x = d3.scaleLinear().domain([0, 5000]).range([box.left, box.right]);
  const y = d3.scaleLinear().domain([-5, 30]).range([box.bottom, box.top]);
  const ly = y(level[0]);
  const tip = y(level[1]);
  const last = x(doys[doys.length - 1]);
  return (
    <g stroke={color} strokeWidth={4.5} fill="none" filter="url(#shadow)">
      <path d={`M0,${ly}H${last}V${tip}`} strokeLinejoin="miter" />
      {doys.map(d => (
        <g key={d}>
          <line x1={x(d)} x2={x(d)} y1={ly} y2={tip} />
          <path d={`M${x(d) - 11},${tip - 19}L${x(d)},${tip - 1}L${x(d) + 11},${tip - 19}`} strokeLinejoin="miter" />
        </g>
      ))}
    </g>
  );
}

export default function App() {
  const gppBox: Box = { left: 331.6, right: 1705, top: 51.6, bottom: 766.5 };
  const neeBox: Box = { left: 346.5, right: 1705, top: 967.3, bottom: 1667.3 };
  return (
    <svg width={1743} height={1799} style={{ position: "absolute", left: 0, top: 0, background: "#fff" }}>
      <defs>
        <filter id="shadow" x="-5%" y="-50%" width="110%" height="300%">
          <feDropShadow dx={0} dy={4} stdDeviation={3} floodColor="#000" floodOpacity={0.22} />
        </filter>
      </defs>
      <rect width={1743} height={1799} fill="#fff" />
      <Panel box={gppBox} yDomain={[-5, 30]} yTicks={gppTickValues} series={[gppObserved, gppCN, gppBGC]}
        legendX={1342.5} legendY={95.7} title="GPP" titleX={132} xTitleBaseline={895} />
      <Panel box={neeBox} yDomain={[-20, 15]} yTicks={neeTickValues} series={[neeObserved, neeCN, neeBGC]}
        legendX={1347.3} legendY={982.7} title="NEE" titleX={130} xTitleBaseline={1786} />
      <Arrows box={gppBox} doys={pinkArrowDoys} level={pinkLevel} color="#dc9a9a" />
      <Arrows box={gppBox} doys={blueArrowDoys} level={blueLevel} color="#5b8fcf" />
    </svg>
  );
}
